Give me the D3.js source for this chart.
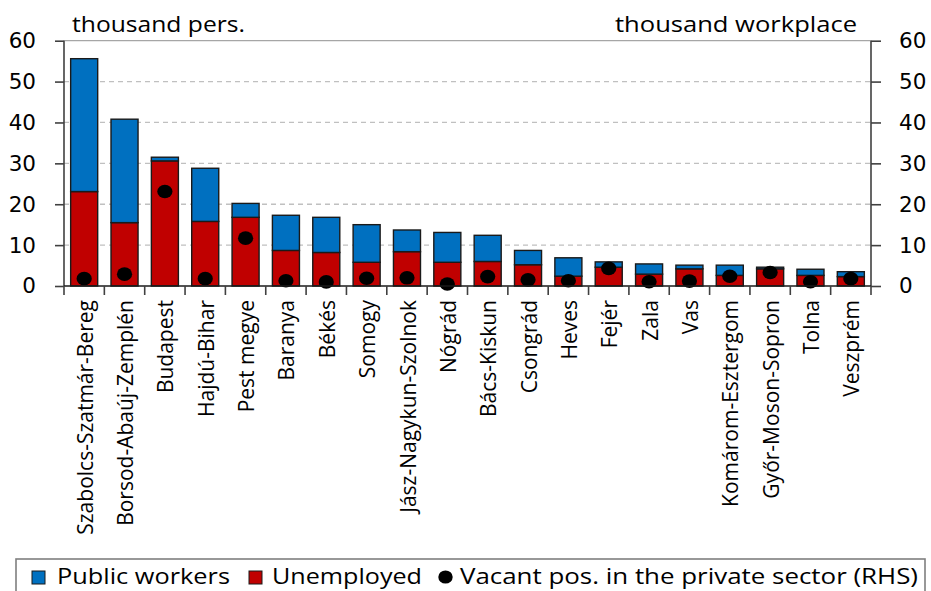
<!DOCTYPE html>
<html>
<head>
<meta charset="utf-8">
<script src="https://cdn.jsdelivr.net/npm/d3@7"></script>
<style>
  body { margin: 0; background: #ffffff; }
  svg { display: block; }
</style>
</head>
<body>
<div class="chartContainer"></div>
<script>

// counties on the x axis
var counties = ["Szabolcs-Szatmár-Bereg", "Borsod-Abaúj-Zemplén", "Budapest", "Hajdú-Bihar",
  "Pest megye", "Baranya", "Békés", "Somogy", "Jász-Nagykun-Szolnok", "Nógrád", "Bács-Kiskun",
  "Csongrád", "Heves", "Fejér", "Zala", "Vas", "Komárom-Esztergom", "Győr-Moson-Sopron",
  "Tolna", "Veszprém"];

// thousand persons (LHS)
var unemployed = [23.1, 15.5, 30.6, 15.8, 16.8, 8.7, 8.2, 5.8, 8.4, 5.8, 6.0,
  5.2, 2.4, 4.6, 2.9, 4.2, 2.6, 4.2, 2.6, 2.3];
var publicWorkers = [32.5, 25.3, 0.9, 13.0, 3.4, 8.6, 8.6, 9.2, 5.3, 7.3, 6.4,
  3.5, 4.5, 1.3, 2.5, 0.9, 2.5, 0.4, 1.5, 1.2];

// thousand workplaces (RHS)
var vacant = [1.8, 2.9, 23.1, 1.8, 11.7, 1.3, 1.0, 1.9, 2.0, 0.5, 2.3,
  1.5, 1.3, 4.3, 1.05, 1.2, 2.4, 3.3, 1.05, 1.8];

// tick labels of both y axes
var yTicks = [0, 10, 20, 30, 40, 50, 60];

var blue = "#0070C0",
    red = "#C00000";

window.onload = function() {
  main();
};

function main() {
  var canvasWidth = 931,
      canvasHeight = 591,
      margin = { top: 40.7, right: 60, bottom: 305, left: 64 };

  var width = canvasWidth - margin.left - margin.right;
  var height = canvasHeight - margin.top - margin.bottom;

  var canvas = d3.select(".chartContainer")
    .append("svg")
    .attr("width", canvasWidth)
    .attr("height", canvasHeight);

  var plot = canvas.append("g")
    .attr("transform", "translate(" + margin.left + "," + margin.top + ")");

  // scales
  var x = d3.scaleBand()
    .domain(counties)
    .range([0, width])
    .paddingInner(0.33)
    .paddingOuter(0.165);

  var yLeft = d3.scaleLinear().domain([0, 60]).range([height, 0]);
  var yRight = d3.scaleLinear().domain([0, 60]).range([height, 0]);

  // grid lines
  plot.append("g")
    .selectAll("line")
    .data(yTicks.filter(function(d) { return d > 0; }))
    .enter()
    .append("line")
    .attr("x1", 0)
    .attr("x2", width)
    .attr("y1", function(d) { return yLeft(d); })
    .attr("y2", function(d) { return yLeft(d); })
    .attr("stroke", function(d) { return d === 60 ? "#a6a6a6" : "#c0c0c0"; })
    .attr("stroke-width", 1.3)
    .attr("stroke-dasharray", function(d) { return d === 60 ? null : "5,4"; });

  // stacked bars, unemployed below public workers
  var table = counties.map(function(c, i) {
    return { county: c, unemployed: unemployed[i], publicWorkers: publicWorkers[i] };
  });
  var stacked = d3.stack().keys(["unemployed", "publicWorkers"])(table);
  var colors = { unemployed: red, publicWorkers: blue };

  plot.append("g")
    .selectAll("g")
    .data(stacked)
    .enter()
    .append("g")
    .attr("fill", function(d) { return colors[d.key]; })
    .selectAll("rect")
    .data(function(d) { return d; })
    .enter()
    .append("rect")
    .attr("x", function(d) { return x(d.data.county); })
    .attr("y", function(d) { return yLeft(d[1]); })
    .attr("width", x.bandwidth())
    .attr("height", function(d) { return yLeft(d[0]) - yLeft(d[1]); })
    .attr("stroke", "#1a1a1a")
    .attr("stroke-width", 1.4);

  // vacant positions as dots on the right axis
  plot.append("g")
    .selectAll("ellipse")
    .data(vacant)
    .enter()
    .append("ellipse")
    .attr("cx", function(d, i) { return x(counties[i]) + x.bandwidth() / 2; })
    .attr("cy", function(d) { return yRight(d); })
    .attr("rx", 7.6)
    .attr("ry", 6.8)
    .attr("fill", "#000000");

  makeAxes(plot, x, yLeft, yRight, width, height);
  makeLabels(canvas, margin, width);
  makeLegend(canvas);
}

function makeAxes(plot, x, yLeft, yRight, width, height) {
  var axisColor = "#404040";

  // left axis
  var left = plot.append("g")
    .call(d3.axisLeft(yLeft).tickValues(yTicks).tickSize(9).tickPadding(19));
  // right axis
  var right = plot.append("g")
    .attr("transform", "translate(" + width + ",0)")
    .call(d3.axisRight(yRight).tickValues(yTicks).tickSize(10).tickPadding(18));

  [left, right].forEach(function(ax) {
    ax.select(".domain").attr("stroke", axisColor).attr("stroke-width", 1.6)
      .attr("d", ax === left ? "M0," + height + "V0" : "M0," + height + "V0");
    ax.selectAll(".tick line").attr("stroke", axisColor).attr("stroke-width", 1.6);
    ax.selectAll(".tick text")
      .attr("fill", "#000")
      .style("font-family", "DejaVu Sans")
      .style("font-size", "21.5px");
  });

  // bottom axis: ticks on the category boundaries
  var bottom = plot.append("g")
    .attr("transform", "translate(0," + height + ")");
  bottom.append("line")
    .attr("x1", 0)
    .attr("x2", width)
    .attr("stroke", "#1a1a1a")
    .attr("stroke-width", 1.6);
  bottom.selectAll(".sep")
    .data(d3.range(counties.length + 1))
    .enter()
    .append("line")
    .attr("class", "sep")
    .attr("x1", function(i) { return i * x.step(); })
    .attr("x2", function(i) { return i * x.step(); })
    .attr("y1", 0)
    .attr("y2", 9)
    .attr("stroke", axisColor)
    .attr("stroke-width", 1.6);

  // rotated county names
  bottom.selectAll(".county")
    .data(counties)
    .enter()
    .append("text")
    .attr("class", "county")
    .attr("transform", function(d) {
      return "translate(" + (x(d) + x.bandwidth() / 2 + 1) + ",14) rotate(-90)";
    })
    .attr("dy", "0.36em")
    .style("text-anchor", "end")
    .style("font-family", "Open Sans")
    .style("font-size", "21px")
    .attr("fill", "#000")
    .text(function(d) { return d; });
}

function makeLabels(canvas, margin, width) {
  // unit labels above the axes
  canvas.append("text")
    .attr("x", 72)
    .attr("y", 32)
    .attr("textLength", 173)
    .attr("lengthAdjust", "spacingAndGlyphs")
    .style("font-family", "Open Sans")
    .style("font-size", "22px")
    .text("thousand pers.");

  canvas.append("text")
    .attr("x", 615)
    .attr("y", 32)
    .attr("textLength", 242)
    .attr("lengthAdjust", "spacingAndGlyphs")
    .style("font-family", "Open Sans")
    .style("font-size", "22px")
    .text("thousand workplace");
}

function makeLegend(canvas) {
  var legend = canvas.append("g");

  legend.append("rect")
    .attr("x", 16)
    .attr("y", 559)
    .attr("width", 909)
    .attr("height", 60)
    .attr("fill", "none")
    .attr("stroke", "#7f7f7f")
    .attr("stroke-width", 1.6);

  // legend entries: marker position, text start and text width
  var items = [
    { label: "Public workers", kind: "rect", color: blue, mx: 32, tx: 57, tw: 173 },
    { label: "Unemployed", kind: "rect", color: red, mx: 249, tx: 272, tw: 150 },
    { label: "Vacant pos. in the private sector (RHS)", kind: "dot", color: "#000", mx: 438, tx: 460, tw: 458 }
  ];

  items.forEach(function(item) {
    if (item.kind === "rect") {
      legend.append("rect")
        .attr("x", item.mx)
        .attr("y", 571)
        .attr("width", 13)
        .attr("height", 13)
        .attr("fill", item.color)
        .attr("stroke", "#1a1a1a")
        .attr("stroke-width", 1);
    } else {
      legend.append("ellipse")
        .attr("cx", item.mx + 7.5)
        .attr("cy", 577)
        .attr("rx", 7.2)
        .attr("ry", 6.6)
        .attr("fill", item.color);
    }
    legend.append("text")
      .attr("x", item.tx)
      .attr("y", 584)
      .attr("textLength", item.tw)
      .attr("lengthAdjust", "spacingAndGlyphs")
      .style("font-family", "Open Sans")
      .style("font-size", "21px")
      .text(item.label);
  });
}
</script>
</body>
</html>
